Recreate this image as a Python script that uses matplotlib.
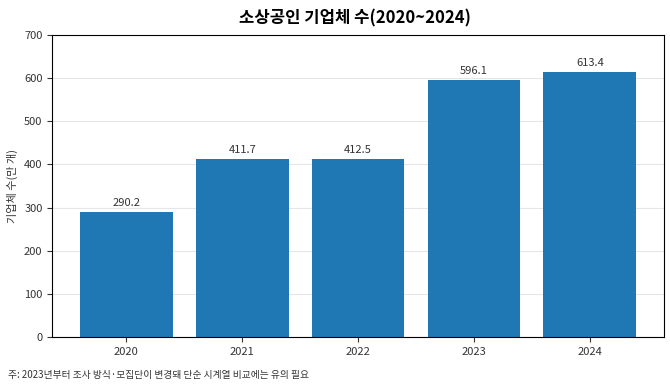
import matplotlib
matplotlib.use("Agg")
import matplotlib.pyplot as plt

plt.rcParams["font.family"] = ["Noto Sans CJK KR", "DejaVu Sans"]

YEARS = ["2020", "2021", "2022", "2023", "2024"]
COUNTS = [290.2, 411.7, 412.5, 596.1, 613.4]

fig = plt.figure(figsize=(6.7, 3.9), dpi=100)
ax = fig.add_axes([0.078, 0.136, 0.913, 0.774])

bars = ax.bar(range(len(YEARS)), COUNTS, width=0.8, color="#1f77b4", zorder=2)
for rect, v in zip(bars, COUNTS):
    ax.annotate(f"{v:.1f}", (rect.get_x() + rect.get_width() / 2, v),
                xytext=(0, 3), textcoords="offset points",
                ha="center", va="bottom", fontsize=8, color="#333333")

ax.set_xticks(range(len(YEARS)))
ax.set_xticklabels(YEARS)
ax.set_ylim(0, 700)
ax.set_yticks(range(0, 701, 100))
ax.tick_params(labelsize=8, colors="#333333")
ax.set_ylabel("기업체 수(만 개)", fontsize=8, color="#333333")
ax.yaxis.grid(True, color="#e6e6e6", linewidth=0.8, zorder=0)
ax.set_axisbelow(True)

fig.suptitle("소상공인 기업체 수(2020~2024)", fontsize=12, fontweight="bold",
             x=0.53, y=0.975)
fig.text(0.012, 0.031, "주: 2023년부터 조사 방식·모집단이 변경돼 단순 시계열 비교에는 유의 필요",
         fontsize=7, color="#333333")

fig.savefig("out.png", dpi=100)
